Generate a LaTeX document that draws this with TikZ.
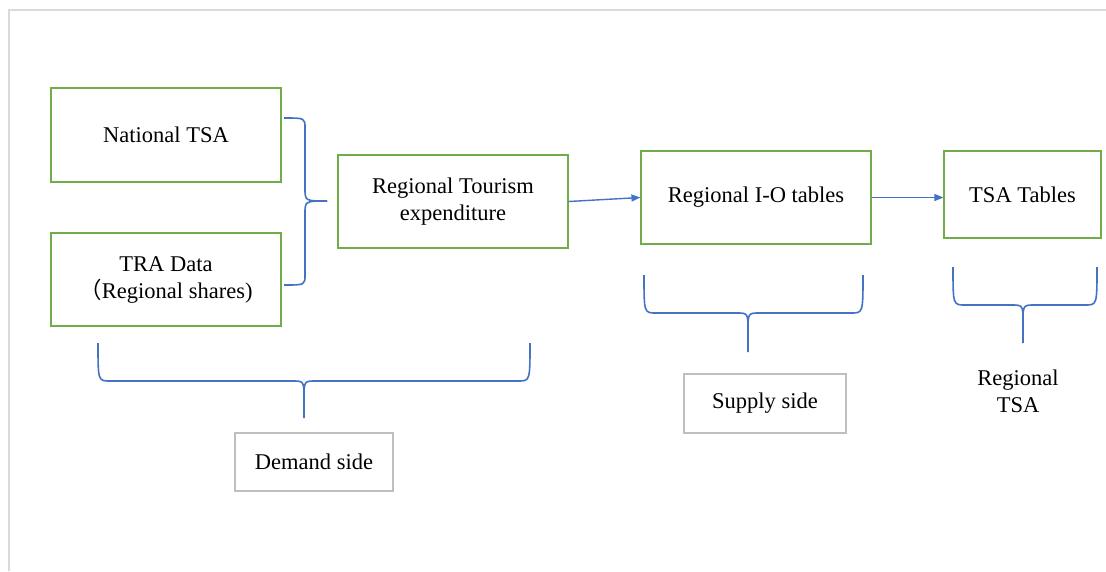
\documentclass[tikz,border=0pt]{standalone}
\usepackage{fontspec}
\setmainfont{Liberation Serif}
\newfontfamily\cjk{Noto Sans CJK SC}
\usetikzlibrary{arrows.meta}
\definecolor{boxgreen}{HTML}{70AD47}
\definecolor{braceblue}{HTML}{4472C4}
\definecolor{framegray}{HTML}{D9D9D9}
\definecolor{labgray}{HTML}{BFBFBF}
\tikzset{
  gbox/.style={draw=boxgreen, line width=1.2pt, inner sep=0pt, align=center,
    font=\fontsize{22.5}{27}\selectfont},
  lbox/.style={draw=labgray, line width=1.2pt, inner sep=0pt, align=center,
    font=\fontsize{22.5}{27}\selectfont},
  plain/.style={inner sep=0pt, align=center, font=\fontsize{22.5}{27}\selectfont},
  brace/.style={draw=braceblue, line width=1.6pt},
  flow/.style={draw=braceblue, line width=1.4pt, -{Triangle[length=9pt,width=7pt]}}
}
\begin{document}
\begin{tikzpicture}[x=1pt,y=-1pt]
\useasboundingbox (0,0) rectangle (1106,571);
\fill[white] (0,0) rectangle (1106,571);
% frame lines
\draw[framegray, line width=1.2pt] (9,571) -- (9,10) -- (1106,10);

% boxes
\node[gbox, minimum width=230pt, minimum height=94pt] (nat) at (166,135) {National TSA};
\node[gbox, minimum width=230pt, minimum height=93pt] (tra) at (166,279.5) {TRA Data\\{\cjk （}Regional shares)};
\node[gbox, minimum width=230pt, minimum height=93pt] (rte) at (453,201.5) {Regional Tourism\\expenditure};
\node[gbox, minimum width=230pt, minimum height=93pt] (io) at (756,197.5) {Regional I-O tables};
\node[gbox, minimum width=157pt, minimum height=87pt] (tsa) at (1022.5,194.5) {TSA Tables};
\node[lbox, minimum width=158pt, minimum height=58pt] (dem) at (314,462) {Demand side};
\node[lbox, minimum width=162pt, minimum height=59pt] (sup) at (765,403.5) {Supply side};
\node[plain] (rtsa) at (1018,391) {Regional\\TSA};

% arrows
\draw[flow] (rte.east) -- (io.west);
\draw[flow] (io.east) -- (io.east -| tsa.west);

% right brace between national/TRA and regional expenditure
\coordinate (b1a) at (284,118);
\coordinate (b1b) at (284,285);
\coordinate (b1t) at (327,201);
\draw[brace] (b1a) .. controls (305,118) .. (305,128) -- (305,188)
  .. controls (305,201) .. (b1t);
\draw[brace] (b1b) .. controls (305,285) .. (305,275) -- (305,214)
  .. controls (305,201) .. (b1t);

% demand brace
\coordinate (dL) at (98,343);
\coordinate (dR) at (530,343);
\coordinate (dT) at (304,418);
\draw[brace] (dL) .. controls (98,381) .. (110,381) -- (292,381)
  .. controls (304,381) .. (304,399) -- (dT);
\draw[brace] (dR) .. controls (530,381) .. (518,381) -- (316,381)
  .. controls (304,381) .. (304,399);
% supply brace
\coordinate (sL) at (644,275);
\coordinate (sR) at (863,275);
\coordinate (sT) at (748,352);
\draw[brace] (sL) .. controls (644,313) .. (656,313) -- (736,313)
  .. controls (748,313) .. (748,331) -- (sT);
\draw[brace] (sR) .. controls (863,313) .. (851,313) -- (760,313)
  .. controls (748,313) .. (748,331);
% regional TSA brace
\coordinate (rL) at (953,267);
\coordinate (rR) at (1097,267);
\coordinate (rT) at (1023,343);
\draw[brace] (rL) .. controls (953,305) .. (965,305) -- (1011,305)
  .. controls (1023,305) .. (1023,323) -- (rT);
\draw[brace] (rR) .. controls (1097,305) .. (1085,305) -- (1035,305)
  .. controls (1023,305) .. (1023,323);
\end{tikzpicture}
\end{document}
